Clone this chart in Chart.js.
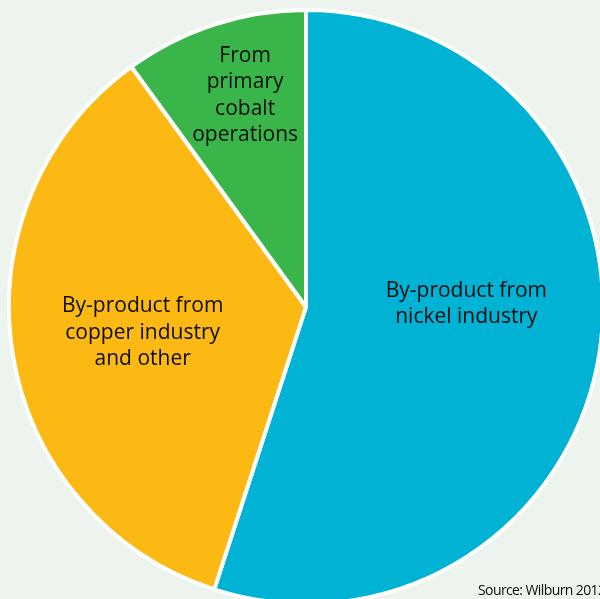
<!DOCTYPE html>
<html>
<head>
<meta charset="utf-8">
<script src="https://cdn.jsdelivr.net/npm/chart.js@4.4.0/dist/chart.umd.min.js"></script>
<style>
  html, body { margin: 0; padding: 0; background: #edf3ed; overflow: hidden; width: 600px; height: 599px; }
  #wrap { position: absolute; left: 7px; top: 8px; width: 598px; height: 598px; }
  #source { position: absolute; left: 478px; top: 580px; font: 14px "Open Sans", sans-serif; color: #111; white-space: nowrap; letter-spacing: -0.6px; }
</style>
</head>
<body>
<div id="wrap"><canvas id="pie"></canvas></div>
<div id="source">Source: Wilburn 2012</div>
<script>
// Sources of cobalt supply (share, %)
const labels = [
  ["By-product from", "nickel industry"],
  ["By-product from", "copper industry", "and other"],
  ["From", "primary", "cobalt", "operations"]
];
const shares = [55, 35, 10];
const colors = ["#00b2d4", "#fdb913", "#39b54a"];
// where each label sits, as a fraction of the radius from the centre
const labelSpots = [[0.54, -0.01], [-0.55, 0.087], [-0.205, -0.712]];

const sliceLabels = {
  id: "sliceLabels",
  afterDatasetsDraw(chart) {
    const ctx = chart.ctx;
    const arc = chart.getDatasetMeta(0).data[0];
    const r = arc.outerRadius;
    ctx.save();
    ctx.fillStyle = "#0d0d0d";
    ctx.font = '21px "Open Sans", sans-serif';
    ctx.textAlign = "center";
    ctx.textBaseline = "middle";
    labels.forEach((lines, i) => {
      const cx = arc.x + labelSpots[i][0] * r;
      const cy = arc.y + labelSpots[i][1] * r;
      const lh = 26.5;
      lines.forEach((t, j) => {
        ctx.fillText(t, cx, cy + (j - (lines.length - 1) / 2) * lh);
      });
    });
    ctx.restore();
  }
};

new Chart(document.getElementById("pie"), {
  type: "pie",
  data: {
    labels: labels.map(l => l.join(" ")),
    datasets: [{
      data: shares,
      backgroundColor: colors,
      borderColor: "#ffffff",
      borderWidth: 4
    }]
  },
  options: {
    responsive: true,
    maintainAspectRatio: false,
    animation: false,
    layout: { padding: 0 },
    plugins: {
      legend: { display: false },
      tooltip: { enabled: false }
    }
  },
  plugins: [sliceLabels]
});
</script>
</body>
</html>
